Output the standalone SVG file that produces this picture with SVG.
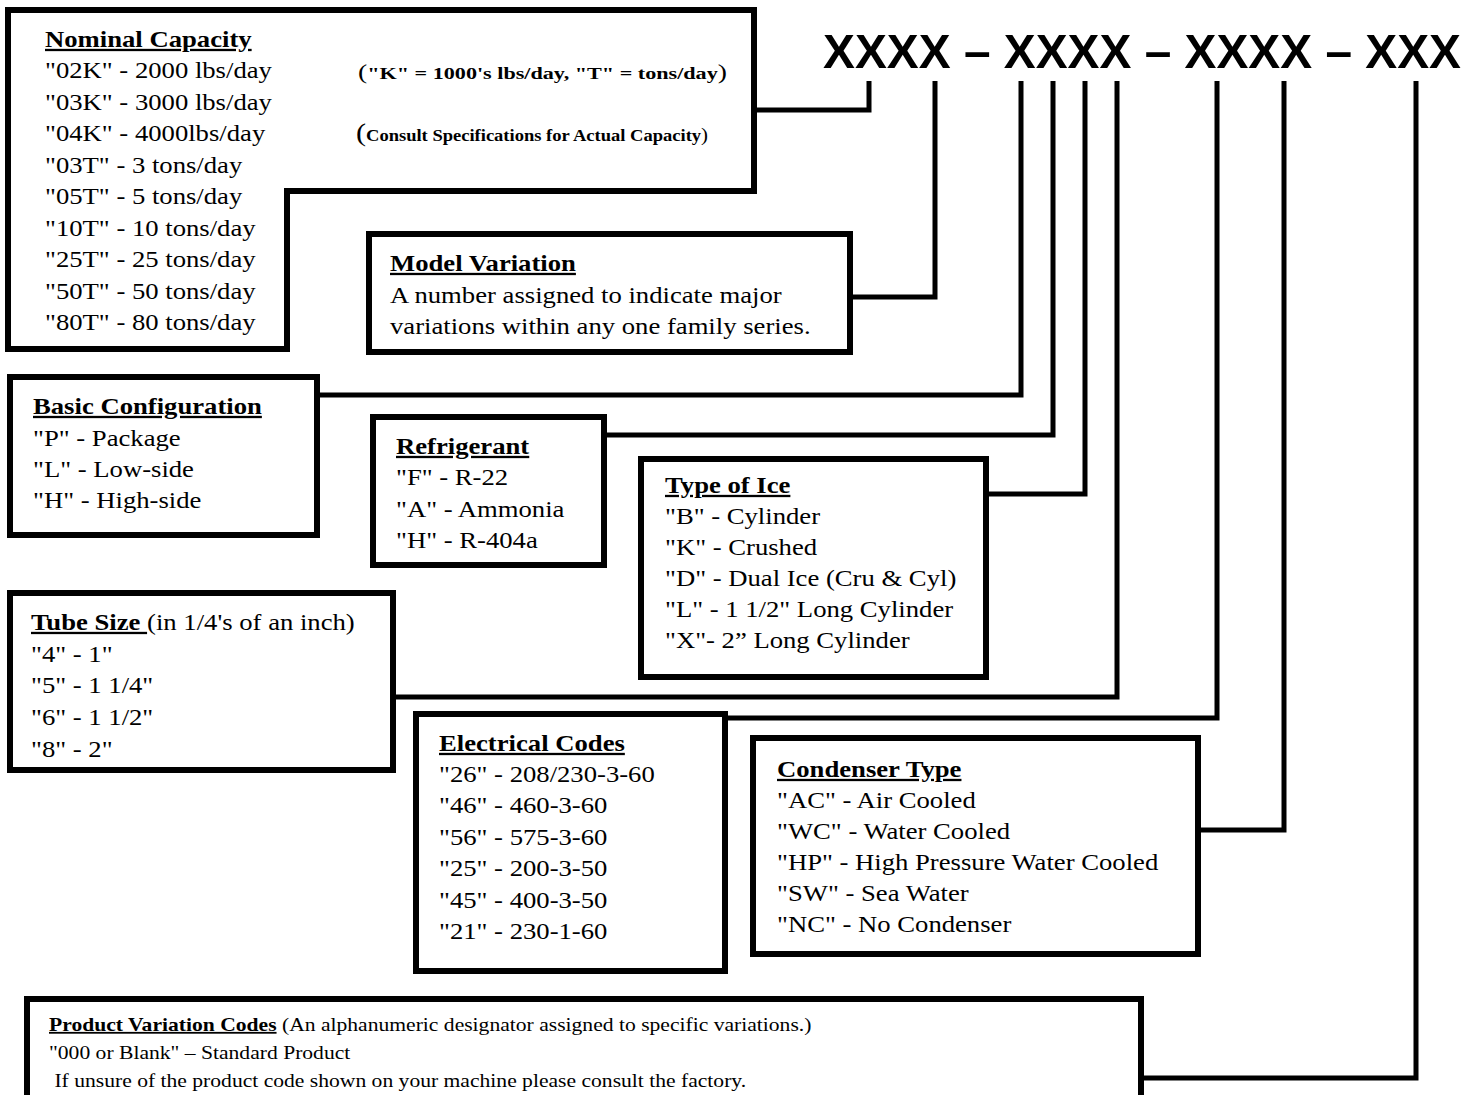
<svg xmlns="http://www.w3.org/2000/svg" width="1478" height="1095" viewBox="0 0 1478 1095">
<style>
.box{fill:#fff;stroke:#000;stroke-width:6;stroke-linejoin:miter}
.wire{fill:none;stroke:#000;stroke-width:5;stroke-linejoin:miter;stroke-linecap:butt}
.t{font-family:"Liberation Serif","Times New Roman",serif;font-size:23px;fill:#000}
.s{font-family:"Liberation Serif","Times New Roman",serif;font-size:18px;fill:#000}
.h{font-weight:bold;text-decoration:underline}
.b{font-weight:bold}
.title{font-family:"Liberation Sans",Arial,sans-serif;font-weight:bold;font-size:49px;fill:#000}
</style>
<rect width="1478" height="1095" fill="#fff"/>

<text id="title" class="title" x="823" y="68" textLength="638" lengthAdjust="spacingAndGlyphs">XXXX – XXXX – XXXX – XXX</text>

<g id="connectors">
<polyline class="wire" points="754,110 869,110 869,81"/>
<polyline class="wire" points="850,297 935,297 935,81"/>
<polyline class="wire" points="317,395 1021,395 1021,81"/>
<polyline class="wire" points="604,435 1053,435 1053,81"/>
<polyline class="wire" points="986,494 1085,494 1085,81"/>
<polyline class="wire" points="393,697 1117,697 1117,81"/>
<polyline class="wire" points="725,718 1217,718 1217,81"/>
<polyline class="wire" points="1198,830 1284,830 1284,81"/>
<polyline class="wire" points="1141,1078 1416,1078 1416,81"/>
</g>

<g id="nominal-capacity">
<polygon class="box" points="8,10 754,10 754,191 287,191 287,349 8,349"/>
<g class="t" transform="translate(45 0) scale(1.16 1)">
<text x="0" y="47" class="h">Nominal Capacity</text>
<text x="0" y="78.5">"02K" - 2000 lbs/day</text>
<text x="0" y="110">"03K" - 3000 lbs/day</text>
<text x="0" y="141.5">"04K" - 4000lbs/day</text>
<text x="0" y="173">"03T" - 3 tons/day</text>
<text x="0" y="204.5">"05T" - 5 tons/day</text>
<text x="0" y="236">"10T" - 10 tons/day</text>
<text x="0" y="267.5">"25T" - 25 tons/day</text>
<text x="0" y="299">"50T" - 50 tons/day</text>
<text x="0" y="330.5">"80T" - 80 tons/day</text>
</g>
<text class="t" x="358" y="79" textLength="369" lengthAdjust="spacingAndGlyphs"><tspan font-size="20">(</tspan><tspan class="b" font-size="16">"K" = 1000's lbs/day, "T" = tons/day</tspan><tspan font-size="20">)</tspan></text>
<text class="t" x="356" y="141" textLength="352" lengthAdjust="spacingAndGlyphs"><tspan font-size="26">(</tspan><tspan class="b" font-size="16">Consult Specifications for Actual Capacity</tspan><tspan font-size="18">)</tspan></text>
</g>

<g id="model-variation">
<rect class="box" x="369" y="234" width="481" height="118"/>
<g class="t" transform="translate(390 0) scale(1.16 1)">
<text x="0" y="271" class="h">Model Variation</text>
<text x="0" y="303">A number assigned to indicate major</text>
<text x="0" y="334">variations within any one family series.</text>
</g>
</g>

<g id="basic-configuration">
<rect class="box" x="10" y="377" width="307" height="158"/>
<g class="t" transform="translate(33 0) scale(1.16 1)">
<text x="0" y="414" class="h">Basic Configuration</text>
<text x="0" y="446">"P" - Package</text>
<text x="0" y="477">"L" - Low-side</text>
<text x="0" y="508">"H" - High-side</text>
</g>
</g>

<g id="refrigerant">
<rect class="box" x="373" y="417" width="231" height="148"/>
<g class="t" transform="translate(396 0) scale(1.16 1)">
<text x="0" y="454" class="h">Refrigerant</text>
<text x="0" y="485">"F" - R-22</text>
<text x="0" y="517">"A" - Ammonia</text>
<text x="0" y="548">"H" - R-404a</text>
</g>
</g>

<g id="type-of-ice">
<rect class="box" x="641" y="459" width="345" height="218"/>
<g class="t" transform="translate(665 0) scale(1.16 1)">
<text x="0" y="493" class="h">Type of Ice</text>
<text x="0" y="524">"B" - Cylinder</text>
<text x="0" y="555">"K" - Crushed</text>
<text x="0" y="586">"D" - Dual Ice (Cru &amp; Cyl)</text>
<text x="0" y="617">"L" - 1 1/2" Long Cylinder</text>
<text x="0" y="648">"X"- 2” Long Cylinder</text>
</g>
</g>

<g id="tube-size">
<rect class="box" x="10" y="593" width="383" height="177"/>
<g class="t" transform="translate(31 0) scale(1.16 1)">
<text x="0" y="630"><tspan class="h">Tube Size </tspan>(in 1/4's of an inch)</text>
<text x="0" y="662">"4" - 1"</text>
<text x="0" y="693">"5" - 1 1/4"</text>
<text x="0" y="725">"6" - 1 1/2"</text>
<text x="0" y="757">"8" - 2"</text>
</g>
</g>

<g id="electrical-codes">
<rect class="box" x="416" y="714" width="309" height="257"/>
<g class="t" transform="translate(439 0) scale(1.16 1)">
<text x="0" y="751" class="h">Electrical Codes</text>
<text x="0" y="782">"26" - 208/230-3-60</text>
<text x="0" y="813">"46" - 460-3-60</text>
<text x="0" y="845">"56" - 575-3-60</text>
<text x="0" y="876">"25" - 200-3-50</text>
<text x="0" y="908">"45" - 400-3-50</text>
<text x="0" y="939">"21" - 230-1-60</text>
</g>
</g>

<g id="condenser-type">
<rect class="box" x="753" y="738" width="445" height="216"/>
<g class="t" transform="translate(777 0) scale(1.16 1)">
<text x="0" y="777" class="h">Condenser Type</text>
<text x="0" y="808">"AC" - Air Cooled</text>
<text x="0" y="839">"WC" - Water Cooled</text>
<text x="0" y="870">"HP" - High Pressure Water Cooled</text>
<text x="0" y="901">"SW" - Sea Water</text>
<text x="0" y="932">"NC" - No Condenser</text>
</g>
</g>

<g id="product-variation-codes">
<rect class="box" x="27" y="999" width="1114" height="120"/>
<g class="s" transform="translate(49 0) scale(1.2 1)">
<text x="0" y="1031"><tspan class="h">Product Variation Codes</tspan> (An alphanumeric designator assigned to specific variations.)</text>
<text x="0" y="1059">"000 or Blank" – Standard Product</text>
<text x="0" y="1087" xml:space="preserve"> If unsure of the product code shown on your machine please consult the factory.</text>
</g>
</g>
</svg>
